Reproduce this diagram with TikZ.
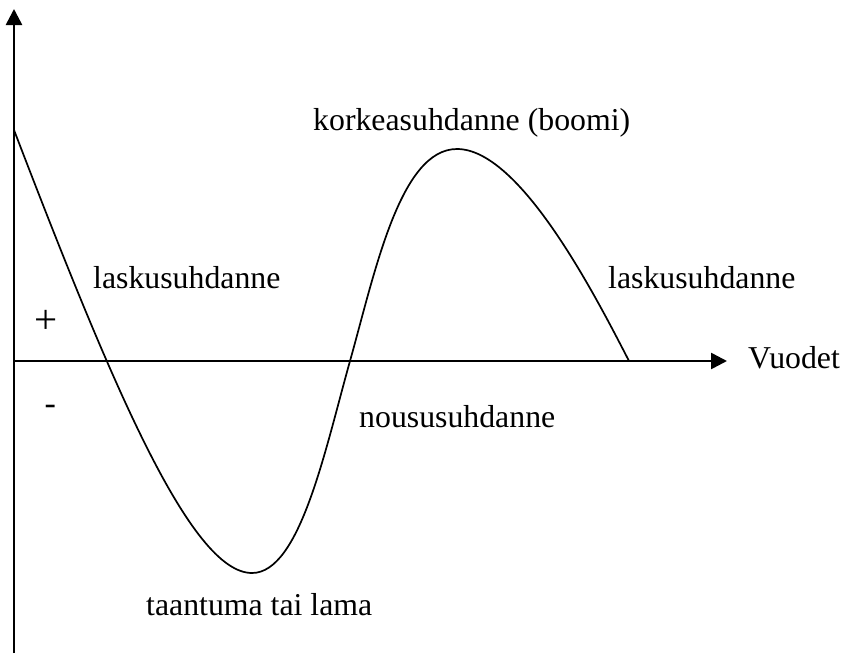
\documentclass[tikz,border=0pt]{standalone}
\usepackage{fontspec}
\setmainfont{Liberation Serif}
\usetikzlibrary{arrows.meta}
\begin{document}
\begin{tikzpicture}[x=1pt,y=-1pt,
  axis/.style={line width=2.6pt,-{Triangle[length=16pt,width=16pt]}},
  wave/.style={line width=1.7pt,line join=round},
  lbl/.style={anchor=base west,inner sep=0pt,font=\fontsize{31.8}{36}\selectfont},
  sign/.style={inner sep=0pt,font=\fontsize{41}{46}\selectfont}]
\useasboundingbox (0,0) rectangle (842,653);
\coordinate (o) at (14,361);
\coordinate (ybot) at (14,653);
\coordinate (ytop) at (14,9);
\coordinate (xend) at (727,361);
\draw[axis] (ybot) -- (ytop);
\draw[axis] (o) -- (xend);
\draw[wave] (14,130) .. controls (110,380) and (190,573) .. (252,573)
  .. controls (300,573) and (325,450) .. (350,361)
  .. controls (375,272) and (400,149) .. (457,149)
  .. controls (520,149) and (595,295) .. (629,361);
\node[lbl] (boom) at (313,130) {korkeasuhdanne (boomi)};
\node[lbl] (lasku1) at (93,288) {laskusuhdanne};
\node[lbl] (lasku2) at (608,288) {laskusuhdanne};
\node[lbl] (vuodet) at (748,368) {Vuodet};
\node[lbl] (nousu) at (359,427) {noususuhdanne};
\node[lbl] (lama) at (146,615) {taantuma tai lama};
\node[sign] (plus) at (46,322) {+};
\node[lbl,font=\fontsize{34}{38}\selectfont] (minus) at (44.5,414) {-};
\end{tikzpicture}
\end{document}
